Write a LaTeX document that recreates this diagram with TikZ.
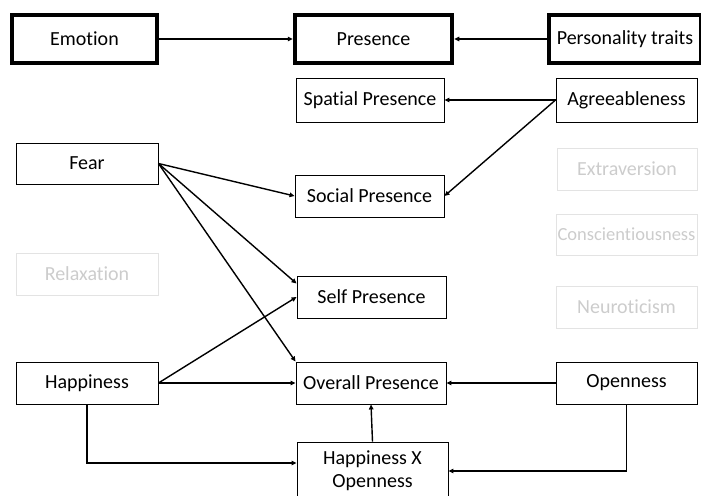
\documentclass[tikz,border=0pt]{standalone}
\usepackage{fontspec}
\setmainfont{Carlito}[RawFeature={-liga;-clig;-calt;-dlig}]
\usetikzlibrary{arrows.meta,calc}
\begin{document}
\begin{tikzpicture}[x=1pt,y=-1pt,
  box/.style={draw, line width=0.9pt, inner sep=0pt, align=center, font=\fontsize{20}{23}\selectfont},
  tbox/.style={box, line width=4.5pt},
  ghost/.style={box, draw=gray!22, text=gray!40},
  arr/.style={-{Triangle[length=5pt,width=4.5pt]}, line width=1.4pt}
]
\useasboundingbox (0,0) rectangle (701,495);
% top row
\node[tbox, minimum width=145pt, minimum height=48pt] (emo) at (84.5,39) {Emotion};
\node[tbox, minimum width=157pt, minimum height=48pt] (pres) at (373.5,39) {Presence};
\node[tbox, minimum width=152pt, minimum height=48pt] (pers) at (625,39) {Personality traits};
% presence column
\node[box, minimum width=148pt, minimum height=44pt] (spatial) at (370,100) {Spatial Presence};
\node[box, minimum width=149pt, minimum height=42pt] (social) at (369.5,196) {Social Presence};
\node[box, minimum width=149pt, minimum height=42pt] (self) at (371.5,297) {Self Presence};
\node[box, minimum width=150pt, minimum height=42pt] (overall) at (371,383) {Overall Presence};
\node[box, minimum width=151pt, minimum height=58pt] (hxo) at (372.5,471) {Happiness X\\Openness};
% emotions
\node[box, minimum width=142pt, minimum height=41pt] (fear) at (87,163.5) {Fear};
\node[ghost, minimum width=142pt, minimum height=42pt] (relax) at (87,274) {Relaxation};
\node[box, minimum width=142pt, minimum height=42pt] (happy) at (87,383) {Happiness};
% traits
\node[box, minimum width=141pt, minimum height=44pt] (agree) at (626.5,100) {Agreeableness};
\node[ghost, minimum width=140pt, minimum height=42pt] (extra) at (627,169) {Extraversion};
\node[ghost, minimum width=141pt, minimum height=41pt, font=\fontsize{18.5}{21}\selectfont] (consc) at (626.5,234.5) {Conscientiousness};
\node[ghost, minimum width=141pt, minimum height=42pt] (neuro) at (626.5,307) {Neuroticism};
\node[box, minimum width=141pt, minimum height=42pt] (open) at (626.5,383) {Openness};
% connectors
\draw[arr] (emo.east) -- (pres.west);
\draw[arr] (pers.west) -- (pres.east);
\draw[arr] (agree.west) -- (spatial.east);
\draw[arr] (agree.west) -- (social.east);
\draw[arr] (fear.east) -- (social.west);
\draw[arr] (fear.east) -- ([yshift=-8pt]self.north west);
\draw[arr] (fear.east) -- (overall.north west);
\draw[arr] (happy.east) -- (self.west);
\draw[arr] (happy.east) -- (overall.west);
\draw[arr] (open.west) -- (overall.east);
\draw[arr] (hxo.north) -- (overall.south);
\draw[arr] (happy.south) |- ([yshift=8pt]hxo.west);
\draw[arr] (open.south) |- (hxo.east);
\end{tikzpicture}
\end{document}
